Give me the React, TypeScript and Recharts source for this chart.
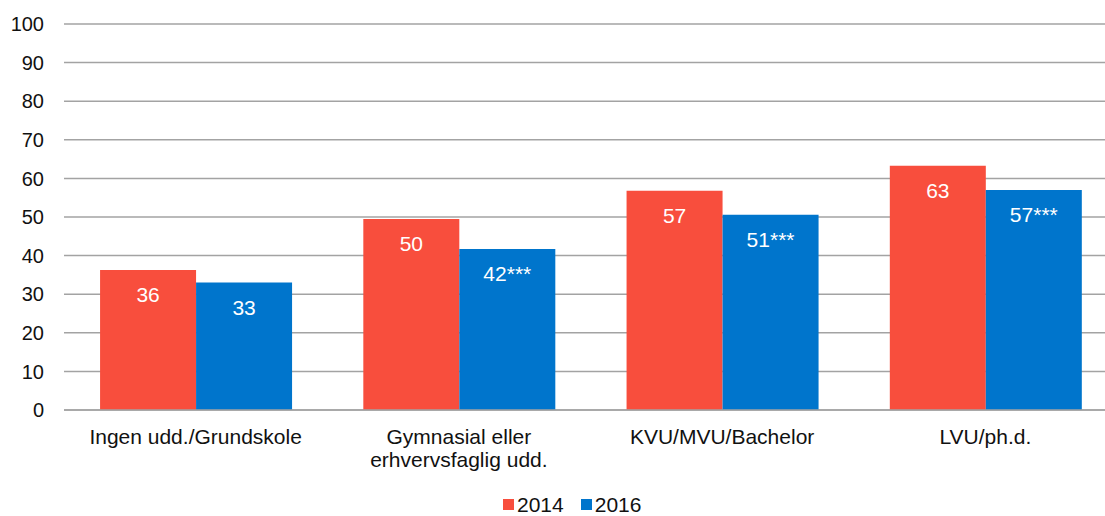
import { BarChart, Bar, XAxis, YAxis, CartesianGrid, Legend, LabelList } from "recharts";

const categories = ["Ingen udd./Grundskole", "Gymnasial eller\nerhvervsfaglig udd.", "KVU/MVU/Bachelor", "LVU/ph.d."];
const values2014 = [36.3, 49.5, 56.8, 63.3];
const values2016 = [33.0, 41.7, 50.6, 57.0];
const labels2014 = ["36", "50", "57", "63"];
const labels2016 = ["33", "42***", "51***", "57***"];
const yTicks = [0, 10, 20, 30, 40, 50, 60, 70, 80, 90, 100];

const RED = "#F84E3D";
const BLUE = "#0075CC";
const FONT = "'Liberation Sans', Arial, sans-serif";

const rows = categories.map((name, i) => ({
  name,
  v2014: values2014[i],
  v2016: values2016[i],
  l2014: labels2014[i],
  l2016: labels2016[i],
}));

function CategoryTick({ x, y, payload }: any) {
  const lines = String(payload.value).split("\n");
  return (
    <text x={x} y={y} textAnchor="middle" fill="#111" fontSize={21} fontFamily={FONT}>
      {lines.map((line, i) => (
        <tspan key={i} x={x} dy={i === 0 ? 26 : 23}>
          {line}
        </tspan>
      ))}
    </text>
  );
}

function LegendContent() {
  const items = [
    { label: "2014", color: RED },
    { label: "2016", color: BLUE },
  ];
  return (
    <div style={{ boxSizing: "border-box", display: "flex", alignItems: "flex-end", height: 36, paddingLeft: 503, fontFamily: FONT, fontSize: 21, lineHeight: "23px", color: "#111" }}>
      {items.map((it) => (
        <div key={it.label} style={{ display: "flex", alignItems: "center", marginRight: 17 }}>
          <span style={{ width: 11, height: 11, background: it.color, display: "inline-block", marginRight: 3 }} />
          <span>{it.label}</span>
        </div>
      ))}
    </div>
  );
}

export default function App() {
  return (
    <div style={{ position: "absolute", left: 0, top: 0, width: 1105, height: 516, overflow: "hidden", background: "#fff" }}>
      <BarChart
        width={1117}
        height={516}
        data={rows}
        margin={{ top: 24, right: 0, bottom: 0, left: 0 }}
        barCategoryGap="13.7%"
        barGap={0}
      >
        <CartesianGrid vertical={false} stroke="#a3a3a3" strokeWidth={1.5} />
        <XAxis
          dataKey="name"
          height={70}
          interval={0}
          tickLine={false}
          axisLine={{ stroke: "#a3a3a3", strokeWidth: 1.5 }}
          tick={<CategoryTick />}
        />
        <YAxis
          width={64}
          domain={[0, 100]}
          ticks={yTicks}
          tickLine={false}
          axisLine={false}
          tickSize={0}
          tickMargin={20}
          tick={{ fill: "#111", fontSize: 20, fontFamily: FONT }}
        />
        <Legend verticalAlign="bottom" height={36} wrapperStyle={{ left: 0, width: 1105 }} content={<LegendContent />} />
        <Bar dataKey="v2014" fill={RED} isAnimationActive={false}>
          <LabelList dataKey="l2014" position="insideTop" offset={17} fill="#fff" fontSize={21} fontFamily={FONT} />
        </Bar>
        <Bar dataKey="v2016" fill={BLUE} isAnimationActive={false}>
          <LabelList dataKey="l2016" position="insideTop" offset={17} fill="#fff" fontSize={21} fontFamily={FONT} />
        </Bar>
      </BarChart>
    </div>
  );
}
